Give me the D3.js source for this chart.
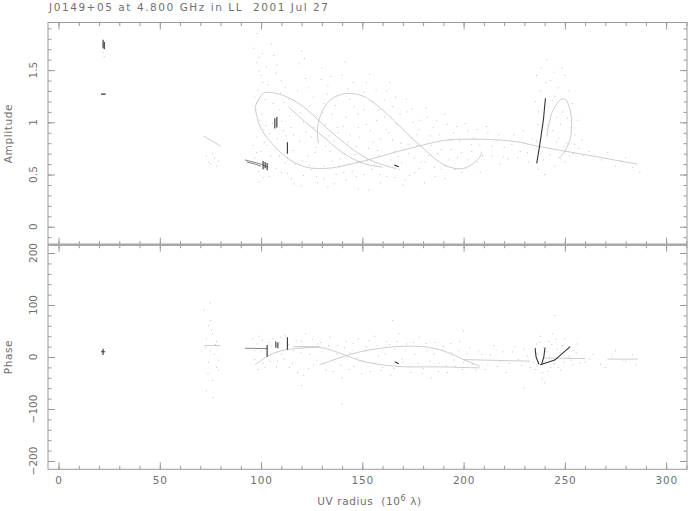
<!DOCTYPE html>
<html><head><meta charset="utf-8">
<script src="https://cdn.jsdelivr.net/npm/d3@7/dist/d3.min.js"></script>
<style>
body{margin:0;background:#fff}
svg{display:block}
text{font-family:"DejaVu Sans",sans-serif;fill:#707070;white-space:pre}
</style>
</head><body>
<svg id="c" width="693" height="511"></svg>
<script>
// ---------------- data ----------------
const titleText = "J0149+05 at 4.800 GHz in LL  2001 Jul 27";
const xTicksMajor = [0, 50, 100, 150, 200, 250, 300];
const ampTicksMajor = [0, 0.5, 1, 1.5];
const ampTickLabels = ["0", "0.5", "1", "1.5"];
const phaseTicksMajor = [-200, -100, 0, 100, 200];
const phaseTickLabels = ["\u2212200", "\u2212100", "0", "100", "200"];

// amplitude grey tracks [uv, amp]
const ampTrackLoop1Top = [[97.0,1.149],[101.1,1.277],[104.4,1.287],[112.6,1.245],[120.9,1.149],[129.1,1.006],[137.4,0.862],[145.6,0.735],[153.8,0.639],[162.1,0.581],[167,0.556]];
const ampTrackLongTail = [[97.0,1.149],[99.5,0.958],[106.1,0.783],[114.3,0.639],[122.6,0.569],[132.4,0.559],[142.3,0.591],[155.5,0.655],[167,0.718],[180.1,0.783],[191.7,0.83],[209.8,0.837],[226.3,0.814],[236.1,0.773],[260.8,0.687],[285.7,0.60]];
const ampTrackInner = [[113.5,1.149],[122.6,0.99],[130.8,0.862],[140.7,0.703],[150.5,0.607],[160,0.57]];
const ampTrackLoop2 = [[128.3,0.799],[127.8,0.91],[129.1,1.054],[134.1,1.214],[142.3,1.277],[150.5,1.25],[153.8,1.214],[163.7,1.054],[171.9,0.895],[180.1,0.751],[186.8,0.639],[193.3,0.569],[199.9,0.559],[204.8,0.607],[208.1,0.67],[209,0.718]];
const ampTrackLoop3 = [[241.1,0.862],[243.5,1.086],[247.7,1.214],[250.1,1.22],[252.6,1.118],[252.9,0.862],[249.3,0.703],[246.8,0.655]];
const ampTrackShort = [[71.5,0.869],[80,0.773]];

// amplitude dark marks
const ampDark = [
  [[22,1.71],[22,1.79]],
  [[22.6,1.70],[22.6,1.77]],
  [[21,1.27],[23.3,1.27]],
  [[101,0.55],[101,0.63]],
  [[102,0.56],[102,0.62]],
  [[103,0.54],[103,0.61]],
  [[106.8,0.94],[106.8,1.04]],
  [[107.8,0.95],[107.8,1.05]],
  [[113,0.70],[113,0.81]],
  [[165.8,0.59],[168,0.575]],
  [[236.1,0.607],[237.7,0.799],[239.4,1.022],[240.4,1.23]]
];
const ampMid = [
  [[92,0.64],[96,0.62],[100,0.60],[103.5,0.57]],
  [[93,0.62],[97,0.6],[100,0.58]]
];

// amplitude scattered points [uv, amp]
const ampDots = [
[98,1.85],[99,1.62],[100,1.45],[101,1.38],[98.5,1.31],[102,1.22],[97.5,1.12],[99.5,1.02],[101,0.93],[98,0.86],[103,0.78],[100,0.72],[97,0.66],[104,0.48],[99,0.43],
[105,1.75],[108,1.55],[110,1.4],[112,1.33],[106,1.18],[109,1.12],[114,1.06],[111,0.92],[116,0.88],[108,0.84],[113,0.66],[117,0.6],[110,0.52],[115,0.46],
[120,1.68],[122,1.42],[118,1.3],[124,1.16],[121,1.0],[126,0.95],[119,0.82],[127,0.76],[123,0.68],[125,0.55],[121,0.49],[128,0.42],
[130,1.52],[133,1.35],[131,1.18],[135,1.08],[132,0.98],[138,0.9],[136,0.82],[134,0.72],[139,0.65],[131,0.58],[137,0.5],[133,0.38],
[140,1.45],[143,1.32],[146,1.15],[142,1.05],[148,0.95],[144,0.88],[147,0.77],[141,0.7],[149,0.62],[145,0.53],[142,0.45],[148,0.36],
[152,1.38],[155,1.2],[151,1.12],[157,1.02],[154,0.92],[159,0.84],[153,0.75],[158,0.68],[156,0.6],[151,0.5],[159,0.42],
[162,1.3],[165,1.15],[161,1.05],[167,0.98],[163,0.9],[169,0.8],[166,0.72],[164,0.64],[168,0.55],[162,0.48],[170,0.4],
[172,1.1],[175,1.0],[178,0.93],[174,0.85],[177,0.78],[173,0.7],[179,0.62],[176,0.52],[171,0.45],
[182,1.05],[185,0.95],[188,0.88],[184,0.78],[187,0.7],[181,0.62],[189,0.55],[186,0.48],
[192,0.98],[195,0.9],[198,0.82],[194,0.74],[197,0.66],[191,0.58],[199,0.52],
[202,0.92],[205,0.85],[208,0.78],[204,0.72],[207,0.62],[201,0.56],
[212,0.9],[216,0.82],[220,0.76],[214,0.68],[218,0.6],[225,0.88],[228,0.72],[222,0.65],[230,0.8],[232,0.62],
[236,1.45],[238,1.3],[237,1.1],[239,0.95],[236,0.82],[238,0.7],[237,0.55],[240,0.5],
[241,1.6],[243,1.4],[245,1.25],[242,1.15],[246,1.05],[244,0.92],[247,0.85],[243,0.75],[248,0.65],[245,0.58],[250,1.45],[252,1.3],[249,1.1],[253,0.95],[251,0.8],[254,0.7],[250,0.62],[255,0.88],[257,0.75],[259,0.68],
[262,0.72],[268,0.64],[275,0.58],[280,0.66],[287,0.52],
[75,0.6],[77,0.66],[73,0.68],[79,0.63],[76,0.7],[74,0.62],[78,0.58],
[22,1.67],[22.5,1.63]
];
const ampDotsExtra = [
[96.4,1.71],[97.8,1.57],[98.9,1.49],[100.6,1.66],[102.7,1.53],[103.4,1.36],[96.9,1.24],[98.3,1.19],[100.2,1.08],[102.4,0.97],[104.1,0.89],[96.2,0.78],[97.7,0.71],[101.6,0.81],[104.8,0.68],[98.8,0.53],[100.9,0.47],
[106.3,1.64],[107.4,1.47],[109.6,1.28],[111.3,1.19],[113.7,1.22],[105.6,0.99],[110.2,1.01],[112.4,0.87],[114.8,0.95],[106.9,0.74],[109.1,0.68],[111.8,0.61],[115.7,0.73],[107.2,0.56],[113.1,0.51],[116.4,0.41],
[118.7,1.56],[121.4,1.61],[123.6,1.33],[125.7,1.24],[119.3,1.09],[122.2,0.91],[124.8,0.86],[126.6,0.71],[120.4,0.63],[123.9,0.59],[127.3,0.48],[119.8,0.39],
[129.6,1.41],[132.7,1.27],[134.4,1.44],[136.8,1.16],[130.4,1.09],[133.5,0.87],[137.7,0.95],[131.8,0.77],[135.2,0.63],[138.6,0.57],[130.9,0.46],[136.1,0.41],
[141.4,1.58],[143.7,1.22],[145.5,1.38],[147.8,1.08],[140.6,0.96],[142.9,0.81],[146.3,0.69],[148.7,0.86],[143.5,0.6],[147.1,0.48],[140.8,0.52],
[150.7,1.29],[153.6,1.46],[156.8,1.31],[158.4,1.12],[151.9,0.98],[155.3,0.81],[157.6,0.73],[152.6,0.63],[154.8,0.55],[158.9,0.5],[153.2,0.35],
[160.8,1.21],[163.6,1.38],[166.4,1.24],[168.7,1.08],[161.9,0.93],[164.9,0.83],[167.7,0.67],[162.7,0.58],[166.1,0.47],[169.4,0.61],
[171.8,1.22],[174.4,1.13],[176.9,0.88],[178.6,1.02],[172.6,0.79],[175.7,0.66],[178.1,0.56],[173.3,0.49],
[181.6,1.14],[183.4,0.87],[186.7,1.02],[188.9,0.74],[182.8,0.68],[185.6,0.57],[180.7,0.42],
[190.6,1.08],[193.7,0.83],[196.6,0.96],[198.8,0.71],[192.4,0.64],[195.8,0.55],[190.9,0.46],
[200.8,0.99],[203.7,0.79],[206.6,0.93],[209.4,0.68],[202.3,0.64],[208.2,0.52],
[211.3,0.96],[213.9,0.77],[217.4,0.88],[219.6,0.67],[223.8,0.79],[226.7,0.66],[229.4,0.92],[231.6,0.71],[233.8,0.84],
[235.6,1.2],[236.8,0.98],[238.4,1.52],[239.5,0.64],[240.7,1.38],[241.8,0.97],[242.6,0.69],[243.7,1.21],[244.6,1.48],[245.9,0.81],[246.7,1.33],[247.8,0.98],[248.6,1.52],[249.7,0.77],[251.3,1.04],[252.4,0.68],[253.6,1.18],[254.8,0.79],[256.3,1.02],[258.4,0.83],
[264.5,0.69],[271.2,0.71],[277.6,0.63],[283.5,0.57]
];

// phase grey tracks [uv, phase]
const phaseTrackShort = [[72,22],[80,22]];
const phaseTrackA = [[97,-15],[103,1],[109,11],[119,17],[129,18],[134,14],[142,3],[150,-8],[167,-18],[188,-19],[208,-21]];
const phaseTrackB = [[129,-15],[134,-8],[149,10],[167,20],[182,19],[192,9],[200,-5],[208,-18]];
const phaseTrackFlat = [[116,20],[129,20]];
const phaseTrackRight = [[199.9,-5],[232.8,-8]];
const phaseTrackRight2 = [[240,-2],[260,-3]];
const phaseTrackRight3 = [[271,-4],[286,-4]];

// phase dark marks
const phaseDark = [
  [[22,4],[22,16]],
  [[21,10],[23,10]],
  [[103,0],[103,23]],
  [[107.3,18],[107.3,30]],
  [[108.3,17],[108.3,28]],
  [[113,14],[113,38]],
  [[166,-9],[168,-13]],
  [[235.3,17],[235.8,0],[237.2,-14]],
  [[240.2,18],[239.6,0],[238.5,-15]],
  [[237.8,-15],[245,-6],[252.6,20]]
];
const phaseMid = [
  [[92,17],[103,16]]
];

// phase scattered points [uv, phase]
const phaseDots = [
[72,90],[74,60],[76,45],[73,35],[78,30],[75,12],[77,5],[74,-10],[79,-25],[76,-45],[73,-65],[78,-20],[75,70],
[96,35],[98,25],[100,10],[97,-5],[102,-20],[99,40],[104,28],[101,-12],
[106,35],[108,-8],[110,5],[112,42],[114,-20],[109,28],[116,12],[118,-30],
[120,30],[122,45],[124,5],[126,-15],[121,-35],[128,25],[130,10],[132,-25],[134,38],[136,-5],[138,22],
[140,-40],[142,30],[144,8],[146,-18],[148,35],[150,-8],[152,20],[154,-28],[156,40],[158,2],
[160,-20],[162,30],[164,-35],[166,15],[168,45],[170,-10],[172,25],[174,-30],[176,5],[178,38],
[180,-22],[182,12],[184,-40],[186,28],[188,-12],[190,20],[192,-30],[194,8],[196,-18],[198,30],
[200,-10],[203,18],[206,-25],[209,5],[212,-15],[215,22],[218,-8],[221,-30],[224,10],[227,-5],[230,15],[233,-20],
[236,25],[237,-10],[238,40],[239,-30],[240,-50],[241,10],[242,30],[243,-20],[244,45],[245,-5],[246,15],[248,-25],[250,35],[252,0],[254,-15],[256,25],
[260,-10],[264,5],[270,-20],[275,12],[280,-8],[285,-15],
[140,-90],[165,70],[120,-55],[200,50],[230,-60],[245,80]
];
const phaseDotsExtra = [
[72.6,18],[73.8,-32],[75.6,52],[77.4,24],[78.7,-6],[76.3,-78],[74.9,104],
[96.8,12],[98.6,-24],[100.7,32],[102.6,6],[104.4,-8],[105.3,21],[107.6,-19],[109.8,38],[111.4,-4],[113.6,24],[115.4,-12],[117.3,31],
[119.6,8],[121.7,19],[123.4,-22],[125.3,34],[127.6,-6],[129.4,28],[131.2,-12],[133.3,22],[135.6,-28],[137.4,6],[139.3,-16],
[141.2,18],[143.6,-24],[145.4,26],[147.3,-2],[149.6,-32],[151.4,12],[153.3,32],[155.6,-12],[157.3,22],[159.4,-26],
[161.3,6],[163.4,24],[165.6,-22],[167.3,30],[169.6,-4],[171.4,12],[173.6,-18],[175.3,28],[177.6,-12],[179.4,-32],
[181.6,26],[183.3,-8],[185.4,6],[187.6,-28],[189.3,14],[191.4,-16],[193.6,26],[195.3,-6],[197.6,12],[199.4,-24],
[201.6,6],[204.3,-14],[207.4,12],[210.6,-24],[213.3,4],[216.6,-18],[219.4,10],[222.6,-12],[225.4,20],[228.6,-16],[231.4,2],[234.3,-10],
[235.6,-24],[236.7,6],[237.6,28],[238.7,-42],[239.6,18],[240.6,-8],[241.7,-28],[242.6,2],[243.6,24],[244.7,-14],[245.6,34],[246.6,-20],[247.6,8],[248.7,22],[249.6,-10],[251.4,14],[253.3,-6],[255.6,8],[257.4,-12],
[262.3,-4],[267.6,-14],[273.4,2],[278.6,-6],[283.4,4]
];

// ---------------- drawing ----------------
const svg = d3.select("#c");
const L = 48, R = 687, T = 22.5, M = 244.7, B = 469.3;
const x = d3.scaleLinear().domain([-5.2, 310.3]).range([L, R]);
const yA = d3.scaleLinear().domain([-0.172, 1.956]).range([M, T]);
const yP = d3.scaleLinear().domain([-216, 216]).range([B, M]);

const axisColor = "#9a9a9a";
const xMinor = d3.range(0, 311, 10);
const ampMinor = d3.range(-1, 20).map(d => d / 10);
const phaseMinor = d3.range(-200, 201, 20);

function ticks(gen, tr, vals, size) {
  const g = svg.append("g").attr("transform", tr).style("color", axisColor)
    .call(gen.tickValues(vals).tickSize(size).tickFormat(""));
  g.select(".domain").remove();
  g.selectAll("line").attr("stroke-width", 1);
  return g;
}
[[T, d3.axisTop], [M, d3.axisBottom], [M, d3.axisTop], [B, d3.axisBottom]].forEach(([yy, gen]) => {
  ticks(gen(x), `translate(0,${yy})`, xMinor, -3.5);
  ticks(gen(x), `translate(0,${yy})`, xTicksMajor, -7);
});
ticks(d3.axisLeft(yA), `translate(${L},0)`, ampMinor, -3.5);
ticks(d3.axisLeft(yA), `translate(${L},0)`, ampTicksMajor, -7);
ticks(d3.axisRight(yA), `translate(${R},0)`, ampMinor, -3.5);
ticks(d3.axisRight(yA), `translate(${R},0)`, ampTicksMajor, -7);
ticks(d3.axisLeft(yP), `translate(${L},0)`, phaseMinor, -3.5);
ticks(d3.axisLeft(yP), `translate(${L},0)`, phaseTicksMajor, -7);
ticks(d3.axisRight(yP), `translate(${R},0)`, phaseMinor, -3.5);
ticks(d3.axisRight(yP), `translate(${R},0)`, phaseTicksMajor, -7);

svg.append("rect").attr("x", L).attr("y", T).attr("width", R - L).attr("height", B - T)
  .attr("fill", "none").attr("stroke", axisColor).attr("stroke-width", 1);
svg.append("line").attr("x1", L).attr("x2", R).attr("y1", M).attr("y2", M)
  .attr("stroke", "#a8a8a8").attr("stroke-width", 2.5);

const xa = svg.append("g").attr("transform", `translate(0,${B})`)
  .call(d3.axisBottom(x).tickValues(xTicksMajor).tickSize(0).tickPadding(7.5));
xa.select(".domain").remove();
xa.selectAll("text").attr("font-size", 10.5).attr("letter-spacing", 0.8)
  .attr("font-family", "DejaVu Sans").style("fill", "#707070");

ampTicksMajor.forEach((v, i) => {
  svg.append("text").attr("transform", `translate(37,${yA(v)}) rotate(-90)`)
    .attr("text-anchor", "middle").attr("font-size", 10.5).text(ampTickLabels[i]);
});
phaseTicksMajor.forEach((v, i) => {
  svg.append("text").attr("transform", `translate(37,${yP(v)}) rotate(-90)`)
    .attr("text-anchor", "middle").attr("font-size", 10.5).text(phaseTickLabels[i]);
});

svg.append("text").attr("x", 49).attr("y", 11).attr("font-size", 10.5)
  .attr("textLength", 279).attr("lengthAdjust", "spacing").text(titleText);
svg.append("text").attr("transform", `translate(12,${(T + M) / 2}) rotate(-90)`)
  .attr("text-anchor", "middle").attr("font-size", 10.5).attr("letter-spacing", 0.6).text("Amplitude");
svg.append("text").attr("transform", `translate(12,${(M + B) / 2}) rotate(-90)`)
  .attr("text-anchor", "middle").attr("font-size", 10.5).attr("letter-spacing", 0.6).text("Phase");
const xl = svg.append("text").attr("x", (L + R) / 2 + 2).attr("y", 505).attr("text-anchor", "middle")
  .attr("font-size", 10.5).attr("letter-spacing", 0.6);
xl.append("tspan").text("UV radius  (10");
xl.append("tspan").attr("dy", -4).attr("font-size", 8).text("6");
xl.append("tspan").attr("dy", 4).text(" \u03bb)");

svg.append("clipPath").attr("id", "ca").append("rect").attr("x", L).attr("y", T).attr("width", R - L).attr("height", M - T);
svg.append("clipPath").attr("id", "cp").append("rect").attr("x", L).attr("y", M).attr("width", R - L).attr("height", B - M);
const gA = svg.append("g").attr("clip-path", "url(#ca)");
const gP = svg.append("g").attr("clip-path", "url(#cp)");

function layer(g, ys, tracks, mid, dark, dots) {
  const smooth = d3.line().x(d => x(d[0])).y(d => ys(d[1])).curve(d3.curveCatmullRom);
  const straight = d3.line().x(d => x(d[0])).y(d => ys(d[1]));
  g.selectAll(".dot").data(dots).join("rect").attr("class", "dot")
    .attr("x", d => x(d[0]) - 0.5).attr("y", d => ys(d[1]) - 0.5)
    .attr("width", 1).attr("height", 1).attr("fill", "#c2c2c2");
  g.selectAll(".trk").data(tracks).join("path").attr("class", "trk")
    .attr("d", smooth).attr("fill", "none").attr("stroke", "#c0c0c0").attr("stroke-width", 0.8);
  g.selectAll(".mid").data(mid).join("path").attr("class", "mid")
    .attr("d", straight).attr("fill", "none").attr("stroke", "#777").attr("stroke-width", 0.9);
  g.selectAll(".dk").data(dark).join("path").attr("class", "dk")
    .attr("d", straight).attr("fill", "none").attr("stroke", "#333").attr("stroke-width", 1.1);
}
layer(gA, yA,
  [ampTrackLoop1Top, ampTrackLongTail, ampTrackInner, ampTrackLoop2, ampTrackLoop3, ampTrackShort],
  ampMid, ampDark, ampDots.concat(ampDotsExtra));
layer(gP, yP,
  [phaseTrackShort, phaseTrackA, phaseTrackB, phaseTrackFlat, phaseTrackRight, phaseTrackRight2, phaseTrackRight3],
  phaseMid, phaseDark, phaseDots.concat(phaseDotsExtra));
</script>
</body></html>
